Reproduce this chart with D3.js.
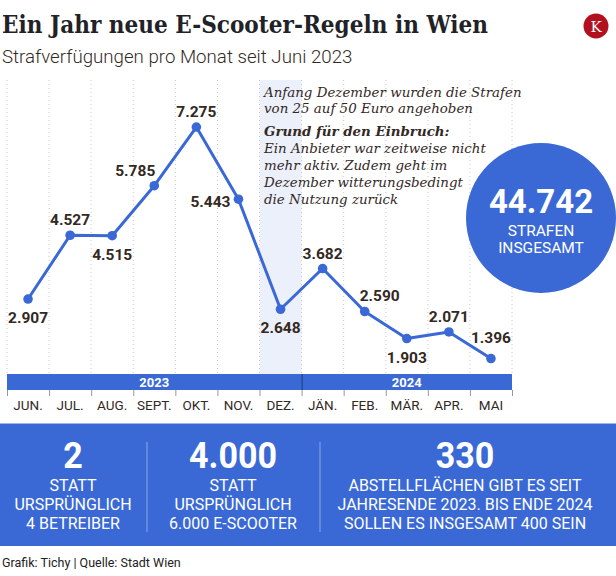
<!DOCTYPE html>
<html><head><meta charset="utf-8">
<script src="https://cdn.jsdelivr.net/npm/d3@7"></script>
<style>body{margin:0;background:#fff}svg{display:block}</style>
</head><body>
<svg id="c" width="616" height="576"></svg>
<script>
const months = ["JUN.","JUL.","AUG.","SEPT.","OKT.","NOV.","DEZ.","JÄN.","FEB.","MÄR.","APR.","MAI"];
const values = [2907,4527,4515,5785,7275,5443,2648,3682,2590,1903,2071,1396];
const labelPlace = ["b","a","b","al","a","l","b","a","ar","b","a","ah"];
const yearLabels = ["2023","2024"];
const yearFirstMonth = ["JUN.","JÄN."];
const yearLastMonth = ["DEZ.","MAI"];
const highlightMonth = "DEZ.";
const totalValue = "44.742";
const totalLines = ["STRAFEN","INSGESAMT"];
const noteLines1 = ["Anfang Dezember wurden die Strafen","von 25 auf 50 Euro angehoben"];
const noteHead = "Grund für den Einbruch:";
const noteLines2 = ["Ein Anbieter war zeitweise nicht","mehr aktiv. Zudem geht im","Dezember witterungsbedingt","die Nutzung zurück"];
const factNumbers = ["2","4.000","330"];
const factTexts = [["STATT","URSPRÜNGLICH","4 BETREIBER"],["STATT","URSPRÜNGLICH","6.000 E-SCOOTER"],["ABSTELLFLÄCHEN GIBT ES SEIT","JAHRESENDE 2023. BIS ENDE 2024","SOLLEN ES INSGESAMT 400 SEIN"]];
const title = "Ein Jahr neue E-Scooter-Regeln in Wien";
const subtitle = "Strafverfügungen pro Monat seit Juni 2023";
const source = "Grafik: Tichy | Quelle: Stadt Wien";

const BLUE = "#3a69d6", TXT = "#33291f";
const svg = d3.select("#c");
svg.append("rect").attr("width",616).attr("height",576).attr("fill","#fff");

// header
svg.append("text").attr("x",2).attr("y",33).text(title)
  .attr("font-family","DejaVu Serif").attr("font-weight","bold").attr("font-size",23.5)
  .attr("fill","#1f2328").attr("textLength",486).attr("lengthAdjust","spacingAndGlyphs");
svg.append("text").attr("x",2).attr("y",63).text(subtitle)
  .attr("font-family","Roboto").attr("font-weight",300).attr("font-size",18.7).attr("fill",TXT);
// logo
svg.append("circle").attr("cx",596).attr("cy",26).attr("r",12.5).attr("fill","#b3101d");
svg.append("text").attr("x",596).attr("y",32).attr("text-anchor","middle").text("K")
  .attr("font-family","DejaVu Serif").attr("font-size",15).attr("fill","#fff");

const x = d3.scaleBand().domain(months).range([7,512]).padding(0);
const y = d3.scaleLinear().domain([0,8000]).range([413.5,98.5]);
const bw = x.bandwidth();
const topY = 80, barTop = 374, barBot = 390;

// highlight band
svg.append("rect").attr("x",x(highlightMonth)).attr("y",topY).attr("width",bw).attr("height",barTop-topY).attr("fill","#ebf0fb");
// grid lines
const bounds = months.map(m=>x(m)).concat([x(months[months.length-1])+bw]);
svg.append("g").selectAll("line").data(bounds).join("line")
  .attr("x1",d=>d).attr("x2",d=>d).attr("y1",topY).attr("y2",barTop)
  .attr("stroke","#c8c8c8").attr("stroke-width",1).attr("stroke-dasharray","1,3");

// year bar
svg.append("rect").attr("x",7).attr("y",barTop).attr("width",505).attr("height",barBot-barTop).attr("fill",BLUE);
yearLabels.forEach((yl,i)=>{
  const x0 = x(yearFirstMonth[i]), x1 = x(yearLastMonth[i])+bw;
  svg.append("text").attr("x",(x0+x1)/2).attr("y",barTop+12.5).attr("text-anchor","middle").text(yl)
    .attr("font-family","Roboto").attr("font-weight","bold").attr("font-size",13).attr("fill","#fff");
  if(i>0) svg.append("line").attr("x1",x0+0.5).attr("x2",x0+0.5).attr("y1",barTop).attr("y2",barBot).attr("stroke","#1e3a7a").attr("stroke-width",1);
});
// axis
const ax = d3.axisBottom(x).tickSize(0).tickPadding(0);
const axg = svg.append("g").attr("transform",`translate(0,${barBot})`).call(ax);
axg.select(".domain").remove();
axg.selectAll("text").attr("y",20).attr("dy",0).attr("font-family","Roboto").attr("font-size",13.5).attr("fill",TXT);
svg.append("g").selectAll("line").data(bounds).join("line")
  .attr("x1",d=>d+0.5).attr("x2",d=>d+0.5).attr("y1",barBot).attr("y2",barBot+6).attr("stroke","#999");

// line
const pts = months.map((m,i)=>[x(m)+bw/2, y(values[i])]);
svg.append("path").attr("d",d3.line()(pts)).attr("fill","none").attr("stroke",BLUE).attr("stroke-width",3).attr("stroke-linejoin","round");
svg.append("g").selectAll("circle").data(pts).join("circle").attr("cx",d=>d[0]).attr("cy",d=>d[1]).attr("r",4.8).attr("fill",BLUE);
const off = {b:[0,24,"middle"],a:[0,-10,"middle"],ah:[0,-16,"middle"],al:[1,-10,"end"],l:[-8,8,"end"],ar:[15,-11,"middle"]};
const fmt = v => d3.format(",")(v).replace(/,/g,".");
svg.append("g").selectAll("text").data(values).join("text")
  .attr("x",(d,i)=>pts[i][0]+off[labelPlace[i]][0])
  .attr("y",(d,i)=>pts[i][1]+off[labelPlace[i]][1])
  .attr("text-anchor",(d,i)=>off[labelPlace[i]][2])
  .text(fmt).attr("font-family","Roboto").attr("font-weight","bold").attr("font-size",15.5).attr("fill",TXT);

// annotation
const ng = svg.append("g").attr("font-family","DejaVu Serif").attr("font-size",13.4).attr("font-style","italic").attr("fill",TXT);
noteLines1.forEach((t,i)=>ng.append("text").attr("x",264).attr("y",97+i*16).text(t));
ng.append("text").attr("x",264).attr("y",136).attr("font-weight","bold").text(noteHead);
noteLines2.forEach((t,i)=>ng.append("text").attr("x",264).attr("y",153+i*17).text(t));

// total circle
svg.append("circle").attr("cx",541).attr("cy",218).attr("r",75).attr("fill",BLUE);
svg.append("text").attr("x",541).attr("y",213).attr("text-anchor","middle").text(totalValue)
  .attr("font-family","Roboto").attr("font-weight","bold").attr("font-size",33).attr("fill","#fff");
totalLines.forEach((t,i)=>svg.append("text").attr("x",541).attr("y",236+i*17).attr("text-anchor","middle").text(t)
  .attr("font-family","Roboto").attr("font-size",15.5).attr("fill","#fff"));

// facts panel
svg.append("rect").attr("x",0).attr("y",423).attr("width",616).attr("height",123).attr("fill",BLUE);
svg.append("line").attr("x1",0).attr("x2",616).attr("y1",423.5).attr("y2",423.5).attr("stroke","#9db6ee");
const centers = [73,233,465];
[147,320].forEach((sx,i)=>svg.append("line").attr("x1",sx).attr("x2",sx).attr("y1",442).attr("y2",532).attr("stroke","#7d9fe6").attr("stroke-width",1.2));
factNumbers.forEach((n,i)=>{
  const t = svg.append("text").attr("x",centers[i]).attr("y",468).attr("text-anchor","middle").text(n)
    .attr("font-family","Roboto").attr("font-weight","bold").attr("font-size",37).attr("fill","#fff");
  const w = t.node().getComputedTextLength();
  t.attr("textLength",w*0.92).attr("lengthAdjust","spacingAndGlyphs");
  factTexts[i].forEach((tx,j)=>svg.append("text").attr("x",centers[i]).attr("y",491+j*19).attr("text-anchor","middle").text(tx)
    .attr("font-family","Roboto").attr("font-size",16).attr("fill","#fff"));
});
svg.append("text").attr("x",2).attr("y",567).text(source).attr("font-family","Roboto").attr("font-size",12.5).attr("fill","#222");
</script>
</body></html>
